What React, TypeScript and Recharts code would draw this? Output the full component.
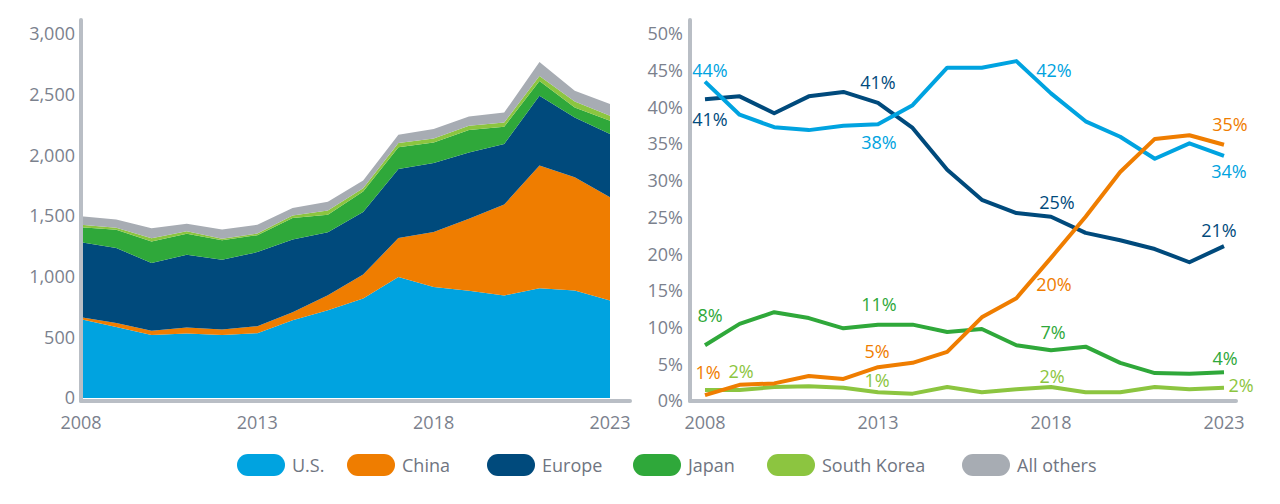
import { Area, AreaChart, Line, LineChart, XAxis, YAxis } from "recharts";

const years = [2008, 2009, 2010, 2011, 2012, 2013, 2014, 2015, 2016, 2017, 2018, 2019, 2020, 2021, 2022, 2023];
const yearTicks = [2008, 2013, 2018, 2023];

// left panel: stacked totals (units)
const usUnits = [649, 584, 518, 532, 518, 534, 641, 723, 820, 997, 915, 884, 844, 904, 885, 803];
const chinaUnits = [16, 33, 35, 49, 47, 58, 65, 123, 197, 321, 452, 593, 750, 1011, 934, 852];
const europeUnits = [619, 619, 559, 600, 575, 610, 600, 520, 515, 570, 570, 547, 499, 575, 493, 521];
const japanUnits = [123, 151, 178, 173, 159, 140, 178, 145, 170, 178, 169, 184, 142, 123, 82, 109];
const koreaUnits = [20, 16, 27, 19, 14, 14, 20, 33, 27, 36, 33, 35, 35, 41, 49, 41];
const otherUnits = [71, 68, 82, 63, 76, 71, 62, 74, 63, 68, 77, 76, 82, 115, 88, 96];
const unitTicks = [0, 500, 1000, 1500, 2000, 2500, 3000];

// right panel: share of total (%)
const usShare = [43.5, 39.0, 37.3, 36.9, 37.5, 37.7, 40.3, 45.4, 45.4, 46.3, 41.9, 38.1, 36.0, 33.0, 35.1, 33.4];
const chinaShare = [0.8, 2.2, 2.4, 3.4, 3.0, 4.6, 5.2, 6.7, 11.4, 14.0, 19.5, 25.1, 31.2, 35.7, 36.2, 34.9];
const europeShare = [41.1, 41.5, 39.2, 41.5, 42.1, 40.6, 37.2, 31.5, 27.4, 25.6, 25.1, 22.9, 21.9, 20.7, 18.9, 21.1];
const japanShare = [7.6, 10.5, 12.1, 11.3, 9.9, 10.4, 10.4, 9.4, 9.8, 7.6, 6.9, 7.4, 5.2, 3.8, 3.7, 3.9];
const koreaShare = [1.5, 1.5, 1.9, 2.0, 1.8, 1.2, 1.0, 1.9, 1.2, 1.6, 1.9, 1.2, 1.2, 1.9, 1.6, 1.8];
const shareTicks = [0, 5, 10, 15, 20, 25, 30, 35, 40, 45, 50];

// point labels on the right panel
const labelYears = [2008, 2013, 2018, 2023];
const usLabels = ["44%", "38%", "42%", "34%"];
const chinaLabels = ["1%", "5%", "20%", "35%"];
const europeLabels = ["41%", "41%", "25%", "21%"];
const japanLabels = ["8%", "11%", "7%", "4%"];
const koreaLabels = ["2%", "1%", "2%", "2%"];

const legendNames = ["U.S.", "China", "Europe", "Japan", "South Korea", "All others"];

const C = {
  us: "#00a3e0",
  china: "#ef7d00",
  europe: "#004a7c",
  japan: "#2fa83a",
  korea: "#8cc540",
  others: "#a7acb3",
  axis: "#b9bec5",
  tick: "#7b818d",
};
const legendColors = [C.us, C.china, C.europe, C.japan, C.korea, C.others];
const legendLeft = [237, 347, 487, 633, 767, 962];

// label offsets (dx, dy from the point), in labelYears order
const labelOffsets: Record<string, number[][]> = {
  us: [[5, -12], [1, 18], [3, -23], [5, 15]],
  china: [[3, -23], [-1, -16], [3, 26], [6, -21]],
  europe: [[5, 20], [0, -21], [6, -15], [-5, -16]],
  japan: [[5, -30], [1, -21], [2, -18], [1, -14]],
  korea: [[36, -19], [-1, -12], [1, -11], [17, -3]],
};

const FONT = "'Open Sans', sans-serif";
const FS = 18;
const tickStyle = { fill: C.tick, fontSize: FS, fontFamily: FONT };

const unitData = years.map((year, i) => ({
  year,
  us: usUnits[i],
  china: chinaUnits[i],
  europe: europeUnits[i],
  japan: japanUnits[i],
  korea: koreaUnits[i],
  others: otherUnits[i],
}));

const shareData = years.map((year, i) => ({
  year,
  us: usShare[i],
  china: chinaShare[i],
  europe: europeShare[i],
  japan: japanShare[i],
  korea: koreaShare[i],
}));

function labelDot(key: string, labels: string[], color: string) {
  return (props: any) => {
    const { cx, cy, index, payload } = props;
    const i = labelYears.indexOf(payload?.year);
    if (i < 0 || cx == null || cy == null) return <g key={`${key}-${index}`} />;
    const [dx, dy] = labelOffsets[key][i];
    return (
      <text
        key={`${key}-${index}`}
        x={cx + dx}
        y={cy + dy}
        textAnchor="middle"
        dominantBaseline="central"
        fontSize={FS}
        fontFamily={FONT}
        fill={color}
      >
        {labels[i]}
      </text>
    );
  };
}

const axisLine = { stroke: C.axis, strokeWidth: 4, strokeLinecap: "round" as const };

function UnitsChart() {
  return (
    <AreaChart width={640} height={440} data={unitData} margin={{ top: 20, right: 10, bottom: 0, left: 0 }}>
      <XAxis
        dataKey="year"
        type="number"
        domain={[2008, 2023]}
        ticks={yearTicks}
        padding={{ left: 0, right: 20 }}
        height={39}
        axisLine={axisLine}
        tickLine={false}
        tickSize={0}
        tickMargin={15}
        tick={tickStyle}
        interval={0}
      />
      <YAxis
        type="number"
        domain={[-25, 3115]}
        ticks={unitTicks}
        width={81}
        axisLine={axisLine}
        tickLine={false}
        tickSize={0}
        tickMargin={6}
        tick={tickStyle}
        tickFormatter={(v: number) => v.toLocaleString("en-US")}
        allowDataOverflow
      />
      <Area type="linear" dataKey="us" stackId="a" stroke="none" fill={C.us} fillOpacity={1} isAnimationActive={false} />
      <Area type="linear" dataKey="china" stackId="a" stroke="none" fill={C.china} fillOpacity={1} isAnimationActive={false} />
      <Area type="linear" dataKey="europe" stackId="a" stroke="none" fill={C.europe} fillOpacity={1} isAnimationActive={false} />
      <Area type="linear" dataKey="japan" stackId="a" stroke="none" fill={C.japan} fillOpacity={1} isAnimationActive={false} />
      <Area type="linear" dataKey="korea" stackId="a" stroke="none" fill={C.korea} fillOpacity={1} isAnimationActive={false} />
      <Area type="linear" dataKey="others" stackId="a" stroke="none" fill={C.others} fillOpacity={1} isAnimationActive={false} />
    </AreaChart>
  );
}

function ShareChart() {
  const series: [string, string[], string][] = [
    ["korea", koreaLabels, C.korea],
    ["japan", japanLabels, C.japan],
    ["europe", europeLabels, C.europe],
    ["us", usLabels, C.us],
    ["china", chinaLabels, C.china],
  ];
  return (
    <LineChart width={636} height={440} data={shareData} margin={{ top: 20, right: 40, bottom: 0, left: 0 }}>
      <XAxis
        dataKey="year"
        type="number"
        domain={[2008, 2023]}
        ticks={yearTicks}
        padding={{ left: 15, right: 12 }}
        height={39}
        axisLine={axisLine}
        tickLine={false}
        tickSize={0}
        tickMargin={15}
        tick={tickStyle}
        interval={0}
      />
      <YAxis
        type="number"
        domain={[0, 51.9]}
        ticks={shareTicks}
        width={50}
        axisLine={axisLine}
        tickLine={false}
        tickSize={0}
        tickMargin={7}
        tick={tickStyle}
        tickFormatter={(v: number) => `${v}%`}
        allowDataOverflow
      />
      {series.map(([key, labels, color]) => (
        <Line
          key={key}
          type="linear"
          dataKey={key}
          stroke={color}
          strokeWidth={4}
          strokeLinejoin="round"
          dot={labelDot(key, labels, color)}
          activeDot={false}
          isAnimationActive={false}
        />
      ))}
    </LineChart>
  );
}

export default function App() {
  return (
    <div
      style={{
        position: "absolute",
        left: 0,
        top: 0,
        width: 1280,
        height: 504,
        background: "#fff",
        fontFamily: FONT,
        overflow: "hidden",
      }}
    >
      <div style={{ position: "absolute", left: 0, top: 0 }}>
        <UnitsChart />
      </div>
      <div style={{ position: "absolute", left: 640, top: 0 }}>
        <ShareChart />
      </div>
      {legendNames.map((name, i) => (
        <div
          key={name}
          style={{
            position: "absolute",
            left: legendLeft[i],
            top: 454,
            height: 22,
            display: "flex",
            alignItems: "center",
            whiteSpace: "nowrap",
          }}
        >
          <span
            style={{
              display: "inline-block",
              width: 48,
              height: 22,
              borderRadius: 11,
              background: legendColors[i],
              marginRight: 7,
            }}
          />
          <span style={{ fontSize: FS, color: "#6f7581" }}>{name}</span>
        </div>
      ))}
    </div>
  );
}
